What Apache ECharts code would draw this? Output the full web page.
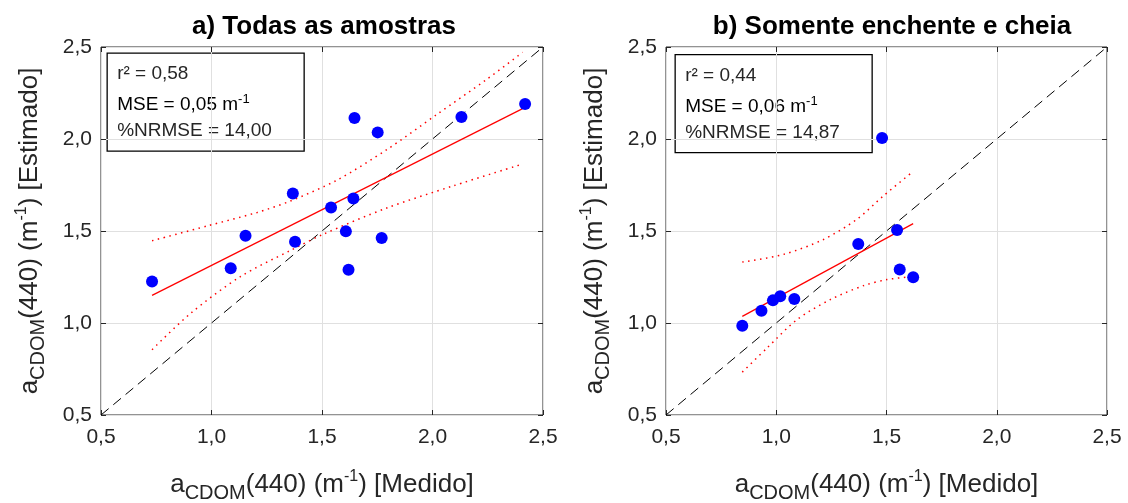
<!DOCTYPE html>
<html><head><meta charset="utf-8">
<script src="https://cdn.jsdelivr.net/npm/echarts@6/dist/echarts.min.js"></script>
<style>html,body{margin:0;padding:0;background:#fff}#c{width:1128px;height:503px}</style>
</head><body><div id="c"></div><script>
// ---- data ----
const axisMin = 0.5, axisMax = 2.5, axisStep = 0.5;
const titleA = 'a) Todas as amostras';
const titleB = 'b) Somente enchente e cheia';
const statsA = ['r² = 0,58', 'MSE = 0,05 m', '%NRMSE = 14,00'];
const statsB = ['r² = 0,44', 'MSE = 0,06 m', '%NRMSE = 14,87'];

const measA = [0.731,1.087,1.154,1.368,1.378,1.541,1.642,1.608,1.620,1.647,1.752,1.770,2.131,2.419];
const estA  = [1.226,1.297,1.474,1.704,1.442,1.628,1.677,1.498,1.290,2.114,2.036,1.462,2.119,2.190];
const fitAx = [0.731,2.419];
const fitAy = [1.150,2.172];
const upAx  = [0.731,0.982,1.207,1.357,1.567,1.793,2.018,2.243,2.408];
const upAy  = [1.447,1.528,1.601,1.663,1.776,1.942,2.132,2.322,2.471];
const loAx  = [0.731,0.907,1.132,1.357,1.507,1.793,2.093,2.408];
const loAy  = [0.855,1.054,1.253,1.394,1.483,1.625,1.745,1.864];

const measB = [0.846,0.933,0.985,1.018,1.082,1.372,1.480,1.548,1.560,1.621];
const estB  = [0.985,1.067,1.123,1.145,1.131,1.429,2.005,1.505,1.291,1.249];
const fitBx = [0.846,1.621];
const fitBy = [1.036,1.540];
const upBx  = [0.846,1.033,1.214,1.366,1.486,1.615];
const upBy  = [1.331,1.373,1.454,1.564,1.691,1.818];
const loBx  = [0.846,0.958,1.094,1.245,1.396,1.502,1.621];
const loBy  = [0.733,0.864,1.018,1.127,1.203,1.236,1.252];

const oneToOne = [0.5, 2.5];

// ---- helpers ----
const FONT = '"Liberation Sans", Arial, sans-serif';
const TXT = '#262626';
const zip = (a, b) => a.map((v, i) => [v, b[i]]);
const fmt = v => v.toFixed(1).replace('.', ',');

const nameRich = {
  n:   {fontFamily: FONT, fontSize: 26, color: TXT, verticalAlign: 'middle', lineHeight: 36},
  sub: {fontFamily: FONT, fontSize: 20, color: TXT, verticalAlign: 'middle', lineHeight: 20, padding: [16,0,0,0]},
  sup: {fontFamily: FONT, fontSize: 16, color: TXT, verticalAlign: 'middle', lineHeight: 16, padding: [0,0,17,0]}
};
const xName = '{n|a}{sub|CDOM}{n|(440) (m}{sup|-1}{n|) [Medido]}';
const yName = '{n|a}{sub|CDOM}{n|(440) (m}{sup|-1}{n|) [Estimado]}';

const grids = [
  {left: 101, top: 47, width: 442, height: 368, show: true, borderColor: TXT, borderWidth: 1, containLabel: false, outerBoundsMode: 'none'},
  {left: 666, top: 47, width: 441, height: 368, show: true, borderColor: TXT, borderWidth: 1, containLabel: false, outerBoundsMode: 'none'}
];

function mainX(gi) {
  return {type: 'value', gridIndex: gi, min: axisMin, max: axisMax, interval: axisStep, position: 'bottom',
    axisLine: {show: false}, axisTick: {show: true, inside: true, length: 5, lineStyle: {color: TXT}},
    axisLabel: {formatter: fmt, fontFamily: FONT, fontSize: 21, color: TXT, margin: 12},
    splitLine: {show: true, lineStyle: {color: '#e0e0e0', width: 1}},
    name: xName, nameLocation: 'middle', nameGap: 52, nameTextStyle: {rich: nameRich}};
}
function mainY(gi) {
  return {type: 'value', gridIndex: gi, min: axisMin, max: axisMax, interval: axisStep, position: 'left',
    axisLine: {show: false}, axisTick: {show: true, inside: true, length: 5, lineStyle: {color: TXT}},
    axisLabel: {formatter: fmt, fontFamily: FONT, fontSize: 21, color: TXT, margin: 9},
    splitLine: {show: true, lineStyle: {color: '#e0e0e0', width: 1}},
    name: yName, nameLocation: 'middle', nameGap: 53, nameRotate: 90, nameTextStyle: {rich: nameRich}};
}
function sideAxis(gi, pos) {
  return {type: 'value', gridIndex: gi, min: axisMin, max: axisMax, interval: axisStep, position: pos,
    axisLine: {show: false}, axisTick: {show: true, inside: true, length: 5, lineStyle: {color: TXT}},
    axisLabel: {show: false}, splitLine: {show: false}};
}

function seriesFor(gi, mx, my, fx, fy, ux, uy, lx, ly) {
  const ax = {xAxisIndex: gi * 2, yAxisIndex: gi * 2};
  return [
    Object.assign({type: 'line', data: zip(oneToOne, oneToOne), symbol: 'none', silent: true,
      lineStyle: {color: '#000', width: 1, type: [10, 6]}, z: 2}, ax),
    Object.assign({type: 'line', data: zip(ux, uy), symbol: 'none', smooth: 0.3, silent: true,
      lineStyle: {color: '#ff0000', width: 1.5, type: [1.5, 4.5]}, z: 3}, ax),
    Object.assign({type: 'line', data: zip(lx, ly), symbol: 'none', smooth: 0.3, silent: true,
      lineStyle: {color: '#ff0000', width: 1.5, type: [1.5, 4.5]}, z: 3}, ax),
    Object.assign({type: 'line', data: zip(fx, fy), symbol: 'none', silent: true,
      lineStyle: {color: '#ff0000', width: 1.2}, z: 4}, ax),
    Object.assign({type: 'scatter', data: zip(mx, my), symbol: 'circle', symbolSize: 12,
      itemStyle: {color: '#0000ff', opacity: 1}, z: 5}, ax)
  ];
}

function statBox(x, y, lines) {
  const st = {fontFamily: FONT, fontSize: 19, fill: TXT};
  return {type: 'group', left: x, top: y, children: [
    {type: 'rect', shape: {x: 0, y: 0, width: 197, height: 98}, style: {fill: '#fff', stroke: '#000', lineWidth: 1.3}},
    {type: 'text', x: 10, y: 21, style: Object.assign({text: lines[0], textVerticalAlign: 'middle'}, st)},
    {type: 'text', x: 10, y: 52, style: {text: '{n|' + lines[1] + '}{s|-1}', textVerticalAlign: 'middle',
      rich: {n: {fontFamily: FONT, fontSize: 19, color: TXT, verticalAlign: 'middle', lineHeight: 24},
             s: {fontFamily: FONT, fontSize: 13, color: TXT, verticalAlign: 'middle', lineHeight: 13, padding: [0,0,11,0]}}}},
    {type: 'text', x: 10, y: 78, style: Object.assign({text: lines[2], textVerticalAlign: 'middle'}, st)}
  ], z: 100};
}

const chart = echarts.init(document.getElementById('c'), null, {renderer: 'canvas'});
chart.setOption({
  animation: false,
  backgroundColor: '#fff',
  title: [
    {text: titleA, left: 319, top: 9, textAlign: 'center', textStyle: {fontFamily: FONT, fontSize: 26, fontWeight: 'bold', color: '#000'}},
    {text: titleB, left: 887, top: 9, textAlign: 'center', textStyle: {fontFamily: FONT, fontSize: 26, fontWeight: 'bold', color: '#000'}}
  ],
  grid: grids,
  xAxis: [mainX(0), sideAxis(0, 'top'), mainX(1), sideAxis(1, 'top')],
  yAxis: [mainY(0), sideAxis(0, 'right'), mainY(1), sideAxis(1, 'right')],
  series: [
    ...seriesFor(0, measA, estA, fitAx, fitAy, upAx, upAy, loAx, loAy),
    ...seriesFor(1, measB, estB, fitBx, fitBy, upBx, upBy, loBx, loBy)
  ],
  graphic: [statBox(106.5, 52.5, statsA), statBox(674.5, 54, statsB)]
});
</script></body></html>
